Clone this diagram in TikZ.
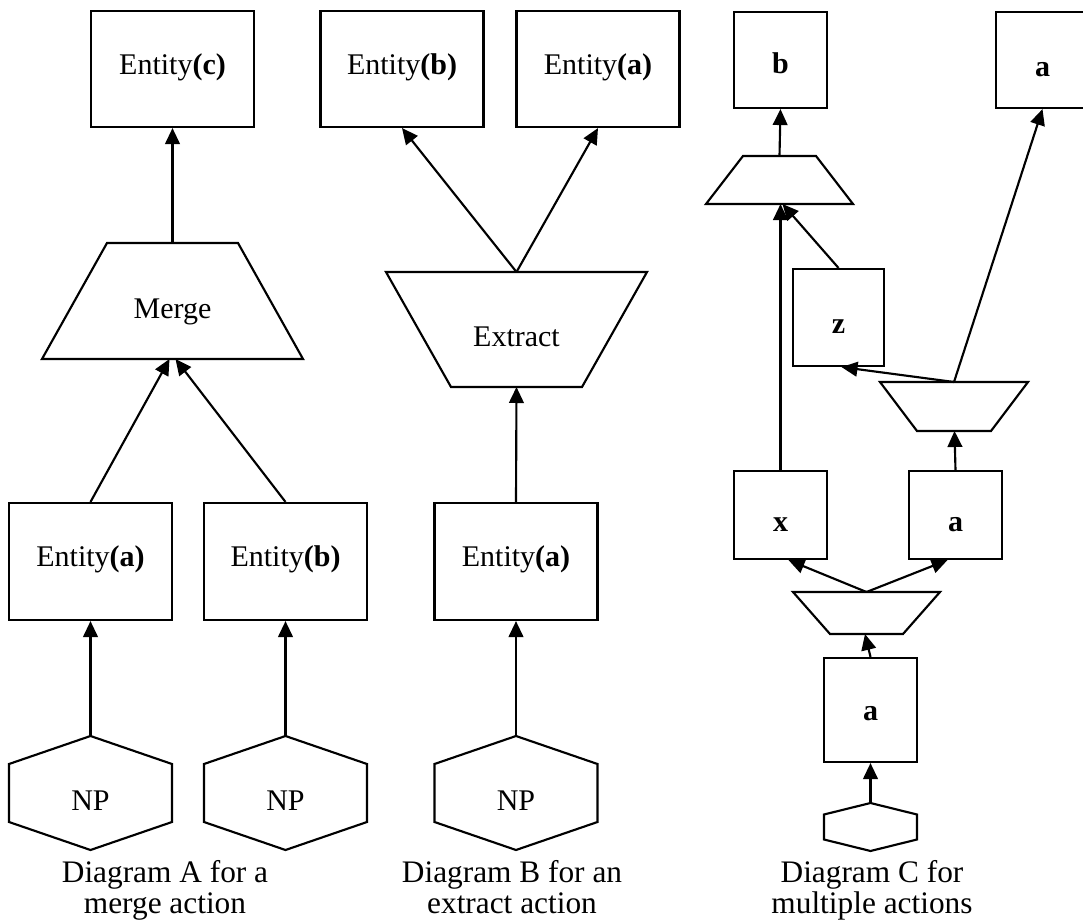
\documentclass[tikz,border=0pt]{standalone}
\usepackage{fontspec}
\setmainfont{Liberation Serif}
\usetikzlibrary{arrows.meta,calc}
\newlength\pxu
\setlength\pxu{0.75pt}
% outlines drawn from the corners of an (invisible) sizing node
\newcommand\drawmergeshape[2]{\draw[outline] ($(#1.north west)+(#2,0)$) -- ($(#1.north east)+(-#2,0)$) -- (#1.south east) -- (#1.south west) -- cycle;}
\newcommand\drawsplitshape[2]{\draw[outline] (#1.north west) -- (#1.north east) -- ($(#1.south east)+(-#2,0)$) -- ($(#1.south west)+(#2,0)$) -- cycle;}
\newcommand\drawhexshape[2]{\draw[outline] (#1.north) -- ($(#1.north east)+(0,#2)$) -- ($(#1.south east)+(0,-#2)$) -- (#1.south) -- ($(#1.south west)+(0,-#2)$) -- ($(#1.north west)+(0,#2)$) -- cycle;}
\begin{document}
\begin{tikzpicture}[x=0.75pt,y=-0.75pt,
  outline/.style={draw=black,line width=1.6pt,line join=miter},
  frame/.style={inner sep=0pt,outer sep=0pt},
  ebox/.style={frame,outline,outer sep=0.8pt},
  bigbox/.style={ebox,minimum width=163\pxu,minimum height=116\pxu},
  smallbox/.style={ebox,minimum width=93\pxu},
  flow/.style={line width=1.6pt,-{Triangle[length=12pt,width=11pt]}},
  lbl/.style={font=\fontsize{22.5}{27}\selectfont},
  captxt/.style={font=\fontsize{23.5}{28}\selectfont,anchor=base,inner sep=0pt},
]
\useasboundingbox (0,0) rectangle (1083,924);
\clip (0,0) rectangle (1083,924);

% ---------------- Diagram A: merge ----------------
\node[bigbox,label={[lbl,yshift=1.5pt]center:Entity\textbf{(c)}}] (Ac) at (172.5,69) {};
\node[frame,minimum width=261\pxu,minimum height=116\pxu,label={[lbl,yshift=-8pt]center:Merge}] (MergeA) at (172.5,301) {};
\drawmergeshape{MergeA}{65}
\node[bigbox,minimum height=117\pxu,label={[lbl,yshift=1.5pt]center:Entity\textbf{(a)}}] (Aa) at (90.5,561.5) {};
\node[bigbox,minimum height=117\pxu,label={[lbl,yshift=1.5pt]center:Entity\textbf{(b)}}] (Ab) at (285.5,561.5) {};
\node[frame,minimum width=163\pxu,minimum height=114\pxu,label={[lbl,yshift=-6pt]center:NP}] (NPa) at (90.5,793) {};
\drawhexshape{NPa}{28}
\node[frame,minimum width=163\pxu,minimum height=114\pxu,label={[lbl,yshift=-6pt]center:NP}] (NPb) at (285.5,793) {};
\drawhexshape{NPb}{28}

\draw[flow] (NPa.north) -- (Aa.south);
\draw[flow] (NPb.north) -- (Ab.south);
\draw[flow] (Aa.north) -- ($(MergeA.south)+(-3,0)$);
\draw[flow] (Ab.north) -- ($(MergeA.south)+(3,0)$);
\draw[flow] (MergeA.north) -- (Ac.south);

\node[captxt] (capA1) at (165,882) {Diagram A for a};
\node[captxt] (capA2) at (165,913) {merge action};

% ---------------- Diagram B: extract ----------------
\node[bigbox,label={[lbl,yshift=1.5pt]center:Entity\textbf{(b)}}] (Bb) at (402,69) {};
\node[bigbox,label={[lbl,yshift=1.5pt]center:Entity\textbf{(a)}}] (Ba) at (598,69) {};
\node[frame,minimum width=261\pxu,minimum height=115\pxu,label={[lbl,yshift=-5.25pt]center:Extract}] (ExtractB) at (516.5,329.5) {};
\drawsplitshape{ExtractB}{65}
\node[bigbox,minimum height=117\pxu,label={[lbl,yshift=1.5pt]center:Entity\textbf{(a)}}] (Bin) at (516,561.5) {};
\node[frame,minimum width=163\pxu,minimum height=114\pxu,label={[lbl,yshift=-6pt]center:NP}] (NPc) at (516,793) {};
\drawhexshape{NPc}{28}

\draw[flow] (NPc.north) -- (Bin.south);
\draw[flow] (Bin.north) -- (ExtractB.south);
\draw[flow] (ExtractB.north) -- (Bb.south);
\draw[flow] (ExtractB.north) -- (Ba.south);

\node[captxt] (capB1) at (512,882) {Diagram B for an};
\node[captxt] (capB2) at (512,913) {extract action};

% ---------------- Diagram C: multiple actions ----------------
\node[smallbox,minimum height=96\pxu,label={[lbl,yshift=-2.5pt]center:\textbf{b}}] (Cb) at (780.5,60) {};
\node[smallbox,minimum height=96\pxu,label={[lbl,yshift=-7pt]center:\textbf{a}}] (Cout) at (1042.5,60) {};
\node[frame,minimum width=147\pxu,minimum height=48\pxu] (Cm) at (779.5,180) {};
\drawmergeshape{Cm}{37}
\node[smallbox,minimum width=91\pxu,minimum height=97\pxu,label={[lbl,yshift=-6.75pt]center:\textbf{z}}] (Cz) at (838.5,317.5) {};
\node[frame,minimum width=148\pxu,minimum height=49\pxu] (Cs1) at (954,406.5) {};
\drawsplitshape{Cs1}{37}
\node[smallbox,minimum height=88\pxu,label={[lbl,yshift=-7.5pt]center:\textbf{x}}] (Cx) at (780.5,515) {};
\node[smallbox,minimum height=88\pxu,label={[lbl,yshift=-7.5pt]center:\textbf{a}}] (Cmid) at (955.5,515) {};
\node[frame,minimum width=147\pxu,minimum height=42\pxu] (Cs2) at (866.5,613) {};
\drawsplitshape{Cs2}{37}
\node[smallbox,minimum height=104\pxu,label={[lbl,yshift=-3pt]center:\textbf{a}}] (Cin) at (870.5,710) {};
\node[frame,minimum width=93\pxu,minimum height=48\pxu] (Chex) at (870.5,827) {};
\drawhexshape{Chex}{11.5}

\draw[flow] (Chex.north) -- (Cin.south);
\draw[flow] (Cin.north) -- ($(Cs2.south)+(-1.5,0)$);
\draw[flow] (Cs2.north) -- ($(Cx.south)+(8,0)$);
\draw[flow] (Cs2.north) -- ($(Cmid.south)+(-8,0)$);
\draw[flow] (Cmid.north) -- ($(Cs1.south)+(0.5,0)$);
\draw[flow] (Cs1.north) -- ($(Cz.south)+(3,0)$);
\draw[flow] (Cs1.north) -- (Cout.south);
\draw[flow] (Cx.north) -- (Cx.north |- Cm.south);
\draw[flow] (Cz.north) -- ($(Cm.south)+(3,0)$);
\draw[flow] (Cm.north) -- (Cb.south);

\node[captxt] (capC1) at (872,882) {Diagram C for};
\node[captxt] (capC2) at (872,913) {multiple actions};
\end{tikzpicture}
\end{document}
